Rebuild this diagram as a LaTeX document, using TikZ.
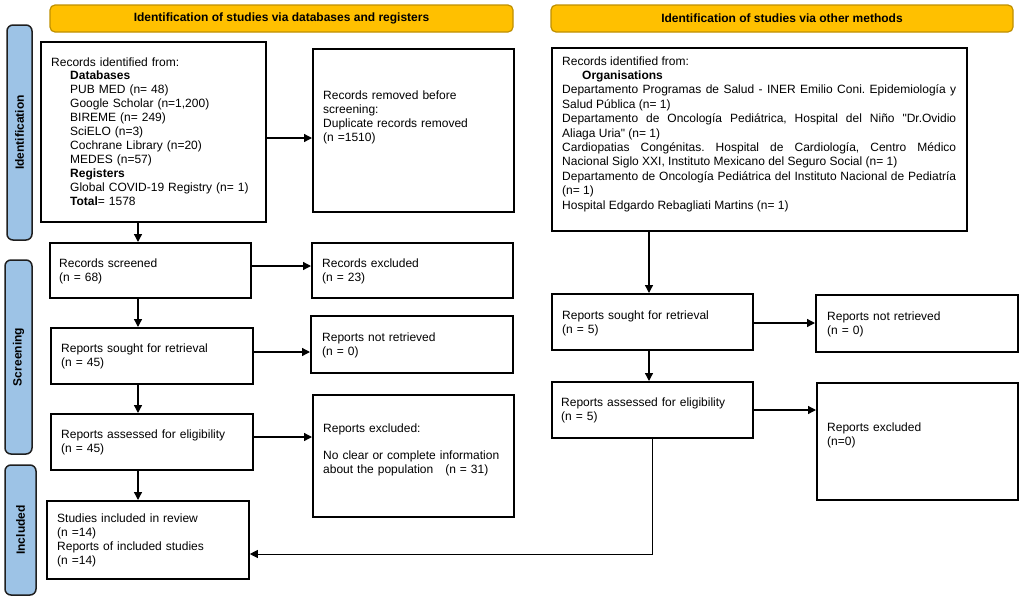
\documentclass[tikz,border=0pt]{standalone}
\usepackage{fontspec}
\setmainfont[Ligatures=TeXOff]{Liberation Sans}
\usetikzlibrary{arrows.meta,calc}
\definecolor{headfill}{HTML}{FFC000}
\definecolor{headborder}{HTML}{BF9000}
\definecolor{sidefill}{HTML}{9DC3E6}
\definecolor{sideborder}{HTML}{1F1F1F}
\newcommand{\myind}{\hspace*{19pt}}
\frenchspacing
\begin{document}
\begin{tikzpicture}[x=1pt,y=-1pt,
  font=\fontsize{12}{14}\selectfont\frenchspacing,
  box/.style={draw=black, line width=1.8pt, rectangle, anchor=north west, inner sep=0pt},
  txt/.style={anchor=base west, inner sep=0pt, text width=240pt, align=left},
  head/.style={draw=headborder, fill=headfill, rounded corners=5pt, line width=1.2pt,
               font=\fontsize{12}{14}\selectfont\bfseries, inner sep=0pt},
  side/.style={draw=sideborder, fill=sidefill, rounded corners=6pt, line width=1.5pt,
               font=\fontsize{12}{14}\selectfont\bfseries, inner sep=0pt, rotate=90},
  arr/.style={-{Triangle[length=8pt,width=8pt]}, line width=1.3pt}
]
\useasboundingbox (0,0) rectangle (1021,600);

% headers
\node[head, minimum width=463pt, minimum height=27pt] (H1) at (281.5,18.5) {Identification of studies via databases and registers};
\node[head, minimum width=462pt, minimum height=27pt] (H2) at (782,18.5) {Identification of studies via other methods};

% side bars
\node[side, minimum width=215pt, minimum height=25pt] (S1) at (19.5,132.5) {Identification};
\node[side, minimum width=194pt, minimum height=27pt] (S2) at (18.5,357) {Screening};
\node[side, minimum width=130pt, minimum height=31pt] (S3) at (20.5,530) {Included};

% boxes left
\node[box, minimum width=225pt, minimum height=180pt] (A) at (40,41) {};
\node[box, minimum width=201pt, minimum height=163pt] (B) at (312,48) {};
\node[box, minimum width=201pt, minimum height=55pt] (C) at (49,242) {};
\node[box, minimum width=201pt, minimum height=55pt] (D) at (311,242) {};
\node[box, minimum width=202pt, minimum height=56pt] (E) at (50,327) {};
\node[box, minimum width=202pt, minimum height=57pt] (F) at (310,315) {};
\node[box, minimum width=202pt, minimum height=56pt] (G) at (50,413) {};
\node[box, minimum width=201pt, minimum height=122pt] (H) at (312,394) {};
\node[box, minimum width=202pt, minimum height=78pt] (I) at (46,500) {};
% boxes right
\node[box, minimum width=415pt, minimum height=183pt] (J) at (551,47) {};
\node[box, minimum width=201pt, minimum height=56pt] (K) at (551,293) {};
\node[box, minimum width=202pt, minimum height=57pt] (L) at (815,294) {};
\node[box, minimum width=201pt, minimum height=56pt] (M) at (551,381) {};
\node[box, minimum width=201pt, minimum height=117pt] (N) at (816,382) {};

% texts left
\node[txt, font=\fontsize{12}{13.95}\selectfont] (At) at (51,66) {Records identified from:\\
\myind\textbf{Databases}\\
\myind PUB MED (n= 48)\\
\myind Google Scholar (n=1,200)\\
\myind BIREME (n= 249)\\
\myind SciELO (n=3)\\
\myind Cochrane Library (n=20)\\
\myind MEDES (n=57)\\
\myind\textbf{Registers}\\
\myind Global COVID-19 Registry (n= 1)\\
\myind\textbf{Total}= 1578};
\node[txt] (Bt) at (323,99) {Records removed before\\screening:\\Duplicate records removed\\(n =1510)};
\node[txt] (Ct) at (59,267) {Records screened\\(n = 68)};
\node[txt] (Dt) at (322,267) {Records excluded\\(n = 23)};
\node[txt] (Et) at (61,352) {Reports sought for retrieval\\(n = 45)};
\node[txt] (Ft) at (322,341) {Reports not retrieved\\(n = 0)};
\node[txt] (Gt) at (61,438) {Reports assessed for eligibility\\(n = 45)};
\node[txt] (Ht) at (323,432) {Reports excluded:\\[13pt]No clear or complete information\\about the population\ \ \ (n = 31)};
\node[txt] (It) at (57,522) {Studies included in review\\(n =14)\\Reports of included studies\\(n =14)};

% texts right
\node[txt, text width=394pt, align=justify, font=\fontsize{12}{14.4}\selectfont] (Jt) at (562,65) {\parindent=0pt\parskip=0pt\hyphenpenalty=10000\exhyphenpenalty=10000\frenchspacing
Records identified from:\par
\hspace*{20pt}\textbf{Organisations}\par
Departamento Programas de Salud - INER Emilio Coni. Epidemiología y\linebreak Salud Pública (n= 1)\par
Departamento de Oncología Pediátrica, Hospital del Niño "Dr.Ovidio\linebreak Aliaga Uria" (n= 1)\par
Cardiopatias Congénitas. Hospital de Cardiología, Centro Médico\linebreak Nacional Siglo XXI, Instituto Mexicano del Seguro Social (n= 1)\par
Departamento de Oncología Pediátrica del Instituto Nacional de Pediatría\linebreak (n= 1)\par
Hospital Edgardo Rebagliati Martins (n= 1)};
\node[txt] (Kt) at (562,319) {Reports sought for retrieval\\(n = 5)};
\node[txt] (Lt) at (827,320) {Reports not retrieved\\(n = 0)};
\node[txt] (Mt) at (561,406) {Reports assessed for eligibility\\(n = 5)};
\node[txt] (Nt) at (827,431) {Reports excluded\\(n=0)};

% coordinates for connectors
\coordinate (cL) at (138,0);
\coordinate (cR) at (649,0);
\coordinate (cM) at (652,0);
\coordinate (yAB) at (0,138);
\coordinate (yCD) at (0,266);
\coordinate (yEF) at (0,352);
\coordinate (yGH) at (0,437);
\coordinate (yKL) at (0,323);
\coordinate (yMN) at (0,410);
\coordinate (yI) at (0,554);

% connectors left
\draw[arr] (A.south -| cL) -- (C.north -| cL);
\draw[arr] (C.south -| cL) -- (E.north -| cL);
\draw[arr] (E.south -| cL) -- (G.north -| cL);
\draw[arr] (G.south -| cL) -- (I.north -| cL);
\draw[arr] (A.east |- yAB) -- (B.west |- yAB);
\draw[arr] (C.east |- yCD) -- (D.west |- yCD);
\draw[arr] (E.east |- yEF) -- (F.west |- yEF);
\draw[arr] (G.east |- yGH) -- (H.west |- yGH);
% connectors right
\draw[arr] (J.south -| cR) -- (K.north -| cR);
\draw[arr] (K.south -| cR) -- (M.north -| cR);
\draw[arr] (K.east |- yKL) -- (L.west |- yKL);
\draw[arr] (M.east |- yMN) -- (N.west |- yMN);
\draw[arr, line width=1pt] (M.south -| cM) -- (cM |- yI) -- (I.east |- yI);
\end{tikzpicture}
\end{document}
